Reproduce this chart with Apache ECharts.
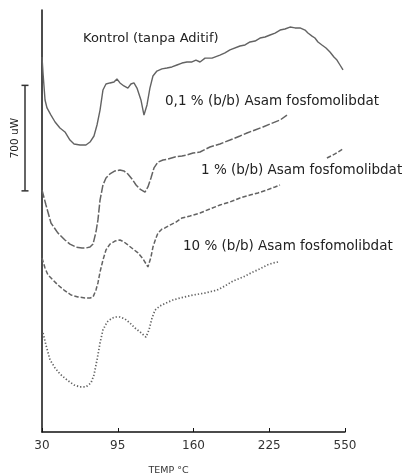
<!DOCTYPE html>
<html>
<head>
<meta charset="utf-8">
<script src="https://cdn.jsdelivr.net/npm/echarts@6/dist/echarts.min.js"></script>
<style>html,body{margin:0;padding:0;background:#fff}#c{width:405px;height:474px}</style>
</head>
<body>
<div id="c"></div>
<script>
// Tick labels along the temperature axis (as printed)
const xTickLabels = ['30', '95', '160', '225', '550'];
const xAxisTitle = 'TEMP \u00B0C';
const scaleBarLabel = '700 uW';
const scaleBarValue = 700;
const scaleBarBase = 1600;

const seriesNames = [
  'Kontrol (tanpa Aditif)',
  '0,1 % (b/b) Asam fosfomolibdat',
  '1 % (b/b) Asam fosfomolibdat',
  '10 % (b/b) Asam fosfomolibdat'
];

// [temperature on the linear plot scale, heat flow in uW (offset traces)]
const kontrol = [[30,2488],[31,2369],[32.6,2203],[34.3,2150],[37.7,2103],[41.2,2057],[45.4,2017],[49.7,1991],[54,1937],[57.5,1911],[62.6,1904],[67.7,1904],[71.2,1924],[74.6,1964],[77.2,2037],[79.8,2136],[82.3,2269],[84.9,2309],[88.3,2316],[91.8,2322],[94.3,2342],[96.9,2316],[100.3,2296],[103.7,2282],[106.3,2309],[108.9,2316],[111.5,2282],[114.9,2203],[117.5,2103],[120.1,2170],[122.6,2282],[125.2,2362],[128.6,2395],[132.9,2409],[137.2,2415],[141.5,2422],[145.8,2435],[150.1,2448],[154.4,2455],[158.7,2455],[162.1,2468],[165.6,2455],[169.9,2481],[175.9,2481],[182.7,2501],[187,2515],[191.3,2535],[199.9,2561],[204.2,2568],[208.5,2588],[212.8,2594],[217.1,2614],[221.4,2621],[225.7,2634],[230,2647],[234.3,2667],[238.5,2674],[242.8,2687],[247.1,2681],[251.4,2681],[253.1,2687],[255.7,2667],[258.2,2647],[261.7,2627],[264.2,2614],[266.8,2588],[270.2,2568],[273.7,2548],[277.1,2521],[280.5,2488],[283.1,2468],[285.7,2435],[288.3,2402]];

const aditif01 = [[30,1606],[33.4,1506],[37.7,1387],[43.7,1320],[49.7,1274],[54,1247],[59.2,1227],[64.3,1221],[67.7,1221],[71.2,1227],[73.8,1247],[76.3,1327],[78,1407],[79.8,1539],[82.3,1639],[84.9,1685],[88.3,1712],[92.6,1732],[96.9,1738],[100.3,1732],[103.7,1712],[107.2,1679],[110.7,1639],[114.1,1612],[118.4,1592],[120.9,1626],[123.5,1685],[126.1,1752],[129.5,1791],[133.8,1805],[138.1,1811],[144.1,1825],[150.1,1831],[154.4,1838],[159.6,1851],[165.6,1858],[174.1,1891],[182.7,1911],[191.3,1937],[199.9,1964],[205.9,1984],[212.8,2004],[219.6,2024],[225.7,2044],[234.3,2070],[240.2,2103]];

const aditif1 = [[30,1154],[32.6,1088],[35.1,1042],[39.4,1009],[43.7,975],[48.9,942],[54.9,909],[60.9,896],[66.9,889],[71.2,889],[73.8,896],[76.3,942],[78,989],[79.8,1062],[82.3,1141],[84.9,1208],[88.3,1247],[92.6,1267],[96.9,1274],[100.3,1261],[103.7,1241],[108.1,1214],[112.4,1188],[116.7,1148],[120.9,1095],[123.5,1161],[125.2,1227],[127.8,1287],[129.5,1320],[133,1347],[135.5,1354],[139.8,1373],[145,1393],[150.1,1420],[157,1433],[165.6,1453],[174.1,1480],[182.7,1506],[191.3,1526],[199.9,1553],[208.5,1572],[215.3,1586],[223.1,1606],[229.9,1626],[234.2,1639],null,[274.5,1818],[281.4,1845],[288.3,1878]];

const aditif10 = [[30.9,657],[33.4,577],[36.9,478],[41.2,425],[45.4,385],[51.5,345],[57.5,312],[62.6,299],[67.7,299],[72,325],[74.6,378],[77.2,478],[79.8,591],[82.3,677],[85.8,730],[90.1,756],[93.5,763],[96.9,763],[101.2,750],[105.5,723],[109.8,690],[114.1,664],[119.2,630],[121.8,677],[124.4,756],[127,809],[131.2,836],[136.4,856],[142.4,876],[148.4,889],[159.6,909],[169.9,922],[180.2,942],[187,969],[193.9,1002],[202.5,1028],[211,1062],[217,1082],[223.1,1108],[228.2,1121],[232.5,1128]];

const xStart = 30;
const xStep = 65;

function shift(arr) {
  return arr.map(p => p === null ? null : [p[0] - xStart, p[1]]);
}

const chart = echarts.init(document.getElementById('c'), null, {renderer: 'canvas'});

const lineColor = '#636363';
const seriesData = [kontrol, aditif01, aditif1, aditif10];
const lineTypes = ['solid', [8, 2], [4.5, 2], [1.3, 2]];
const lineWidths = [1.4, 1.5, 1.5, 1.7];

const option = {
  animation: false,
  backgroundColor: '#fff',
  grid: {left: 42, right: 60, top: 10, bottom: 42, containLabel: false, outerBoundsMode: 'none'},
  xAxis: {
    type: 'value',
    min: 0,
    max: xStep * (xTickLabels.length - 1),
    interval: xStep,
    axisLine: {show: true, lineStyle: {color: '#111', width: 1.5}},
    axisTick: {show: true, inside: true, length: 4, lineStyle: {color: '#111', width: 1}},
    axisLabel: {
      color: '#333', fontFamily: 'DejaVu Sans', fontSize: 12, margin: 8,
      formatter: v => xTickLabels[Math.round(v / xStep)]
    },
    splitLine: {show: false},
    name: xAxisTitle,
    nameLocation: 'middle',
    nameGap: 34,
    nameTextStyle: {color: '#333', fontFamily: 'DejaVu Sans', fontSize: 9.5, padding: [0, 50, 0, 0]}
  },
  yAxis: {
    type: 'value',
    min: 0,
    max: 2800,
    axisLine: {show: true, lineStyle: {color: '#111', width: 1.5}},
    axisTick: {show: false},
    axisLabel: {show: false},
    splitLine: {show: false}
  },
  series: seriesData.map((d, i) => ({
    name: seriesNames[i],
    type: 'line',
    data: shift(d),
    showSymbol: false,
    connectNulls: false,
    smooth: false,
    lineStyle: {color: lineColor, width: lineWidths[i], type: lineTypes[i]}
  }))
};
chart.setOption(option);

// Annotations: series labels and the 700 uW scale bar
const labelPos = [[83, 39, 13], [165, 101, 13.5], [201, 170, 13.5], [183, 246, 13.5]];
const graphics = seriesNames.map((n, i) => ({
  type: 'text',
  x: labelPos[i][0],
  y: labelPos[i][1],
  z: 100,
  style: {text: n, fill: '#222', font: labelPos[i][2] + 'px "DejaVu Sans"', verticalAlign: 'middle', align: 'left'}
}));

const yTop = chart.convertToPixel({yAxisIndex: 0}, scaleBarBase + scaleBarValue);
const yBot = chart.convertToPixel({yAxisIndex: 0}, scaleBarBase);
const bx = 25;
graphics.push(
  {type: 'line', shape: {x1: bx, y1: yTop, x2: bx, y2: yBot}, style: {stroke: '#333', lineWidth: 1.5}},
  {type: 'line', shape: {x1: bx - 3.5, y1: yTop, x2: bx + 3.5, y2: yTop}, style: {stroke: '#333', lineWidth: 1.5}},
  {type: 'line', shape: {x1: bx - 3.5, y1: yBot, x2: bx + 3.5, y2: yBot}, style: {stroke: '#333', lineWidth: 1.5}},
  {type: 'text', x: 15, y: (yTop + yBot) / 2, rotation: Math.PI / 2,
   style: {text: scaleBarLabel, fill: '#222', font: '10.5px "DejaVu Sans"', align: 'center', verticalAlign: 'middle'}}
);
chart.setOption({graphic: graphics});
</script>
</body>
</html>
